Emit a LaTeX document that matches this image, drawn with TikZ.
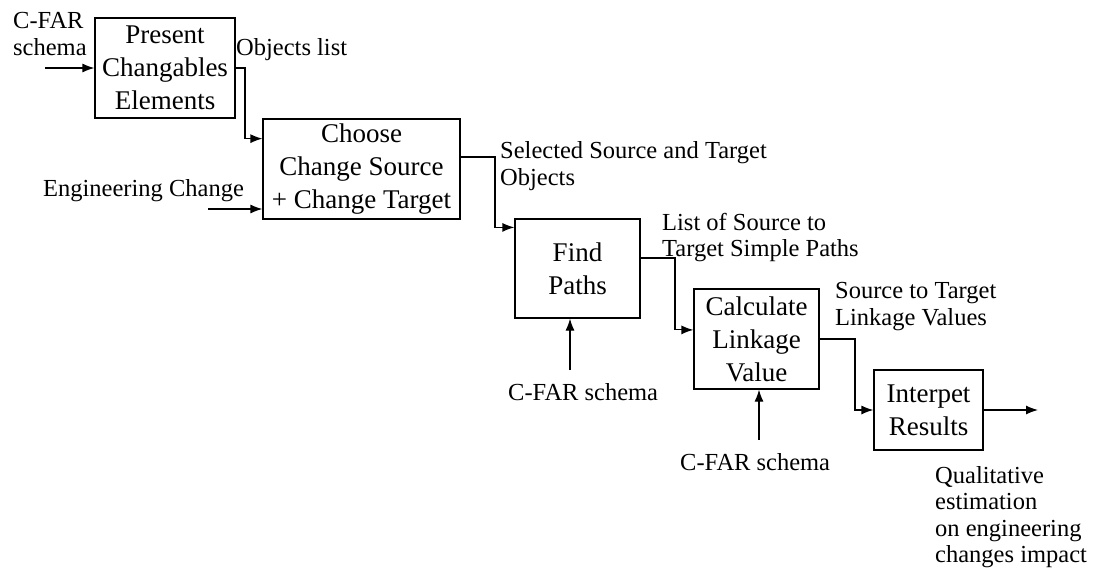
\documentclass[tikz,border=0pt]{standalone}
\usepackage{fontspec}
\setmainfont{Liberation Serif}
\usetikzlibrary{arrows.meta,calc}
\begin{document}
\begin{tikzpicture}[x=1pt,y=-1pt,
  proc/.style={draw,line width=1.2pt,align=center,inner sep=0pt,
    font=\fontsize{27}{33}\selectfont},
  lbl/.style={anchor=base west,inner sep=0pt,font=\fontsize{24.5}{27}\selectfont},
  conn/.style={line width=1.2pt,-{Latex[length=12pt,width=9pt]}}]
\useasboundingbox (0,0) rectangle (1095,571);
% boxes
\node[proc,minimum width=140pt,minimum height=100pt] (b1) at (165,68) {Present\\Changables\\Elements};
\node[proc,minimum width=197pt,minimum height=100pt] (b2) at (361.5,169) {Choose\\Change Source\\+ Change Target};
\node[proc,minimum width=125pt,minimum height=99pt] (b3) at (577.5,268.5) {Find\\Paths};
\node[proc,minimum width=125pt,minimum height=100pt] (b4) at (756.5,339) {Calculate\\Linkage\\Value};
\node[proc,minimum width=109pt,minimum height=80pt] (b5) at (928.5,410) {Interpet\\Results};
% labels
\node[lbl] (l1) at (13,28) {C-FAR};
\node[lbl] (l2) at (13,55) {schema};
\node[lbl] (l3) at (236,55) {Objects list};
\node[lbl] (l4) at (43,196) {Engineering Change};
\node[lbl] (l5) at (500,158) {Selected Source and Target};
\node[lbl] (l6) at (500,185) {Objects};
\node[lbl] (l7) at (662,230) {List of Source to};
\node[lbl] (l8) at (662,256) {Target Simple Paths};
\node[lbl] (l9) at (508,400) {C-FAR schema};
\node[lbl] (l10) at (835,298) {Source to Target};
\node[lbl] (l11) at (835,325) {Linkage Values};
\node[lbl] (l12) at (680,470) {C-FAR schema};
\node[lbl] (l13) at (935,483) {Qualitative};
\node[lbl] (l14) at (935,509) {estimation};
\node[lbl] (l15) at (935,536) {on engineering};
\node[lbl] (l16) at (935,562) {changes impact};
% free ends
\coordinate (s1) at (45,68);
\coordinate (s2) at (208,209);
\coordinate (s3) at (570,370);
\coordinate (s4) at (759,440);
\coordinate (e5) at (1038,410);
% connectors
\draw[conn] (s1) -- (s1 -| b1.west);
\draw[conn] (b1.east |- 0,68) -- (245,68) |- ($(b2.north west)!0.2!(b2.south west)$);
\draw[conn] (s2) -- (s2 -| b2.west);
\draw[conn] (b2.east |- 0,157) -- (495,157) |- ($(b3.north west)!0.09!(b3.south west)$);
\draw[conn] (s3) -- (s3 |- b3.south);
\draw[conn] (b3.east |- 0,258) -- (675,258) |- ($(b4.north west)!0.41!(b4.south west)$);
\draw[conn] (s4) -- (s4 |- b4.south);
\draw[conn] (b4.east |- 0,339) -- (855,339) |- (b5.west);
\draw[conn] (b5.east) -- (e5);
\end{tikzpicture}
\end{document}
